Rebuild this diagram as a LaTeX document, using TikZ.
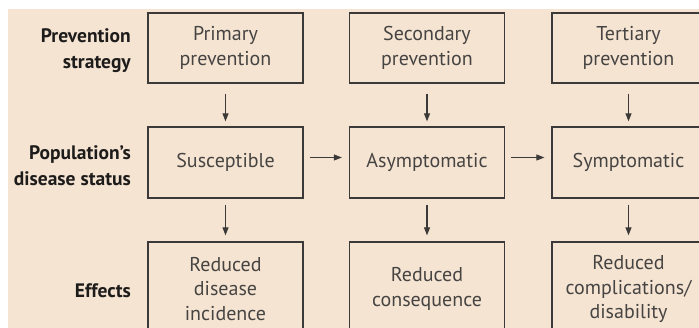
\documentclass[tikz,border=0pt]{standalone}
\usepackage{fontspec}
\setmainfont{PT Sans}
\usetikzlibrary{arrows.meta}
\definecolor{bg}{RGB}{245,228,210}
\definecolor{boxline}{RGB}{60,58,56}
\definecolor{boxtext}{RGB}{70,68,66}
\definecolor{labtext}{RGB}{30,28,27}
\tikzset{
  x=1pt,y=-1pt,
  stagebox/.style={draw=boxline,line width=1.3pt,minimum width=155pt,align=center,
    font=\fontsize{20}{24.5}\selectfont,text=boxtext,inner sep=0pt},
  rowlabel/.style={anchor=east,align=right,font=\fontsize{19.5}{26}\selectfont\bfseries,text=labtext,inner sep=0pt},
  arr/.style={draw=boxline,line width=1.1pt,-{Triangle[length=8pt,width=6pt]}},
}
\begin{document}
\begin{tikzpicture}
\useasboundingbox (0,0) rectangle (699,328);
\clip (0,0) rectangle (699,328);
\fill[white] (0,0) rectangle (699,328);
\fill[bg] (8,9) rectangle (699,328);
% top row
\node[stagebox,minimum height=70pt] (p1) at (225.5,48) {Primary\\prevention};
\node[stagebox,minimum height=70pt] (p2) at (427,48) {Secondary\\prevention};
\node[stagebox,minimum height=70pt,minimum width=153pt] (p3) at (628.5,48) {Tertiary\\prevention};
% middle row
\node[stagebox,minimum height=71pt] (s1) at (225.5,162.5) {Susceptible};
\node[stagebox,minimum height=71pt] (s2) at (427,162.5) {Asymptomatic};
\node[stagebox,minimum height=71pt,minimum width=153pt] (s3) at (628.5,162.5) {Symptomatic};
% bottom row
\node[stagebox,minimum height=94pt] (e1) at (225.5,289) {Reduced\\disease\\incidence};
\node[stagebox,minimum height=94pt] (e2) at (427,289) {Reduced\\consequence};
\node[stagebox,minimum height=94pt,minimum width=153pt] (e3) at (628.5,289) {Reduced\\complications/\\disability};
% row labels
\node[rowlabel] (l1) at (131,51) {Prevention\\strategy};
\node[rowlabel] (l2) at (131,166) {Population's\\disease status};
\node[rowlabel] (l3) at (131,291) {Effects};
% arrows
\foreach \a/\b in {p1/s1,p2/s2,p3/s3}{
  \draw[arr,shorten <=10pt,shorten >=5pt] (\a.south) -- (\b.north);
}
\foreach \a/\b in {s1/e1,s2/e2,s3/e3}{
  \draw[arr,shorten <=6pt,shorten >=6pt] (\a.south) -- (\b.north);
}
\draw[arr,shorten <=6pt,shorten >=7pt] ([yshift=5pt]s1.east) -- ([yshift=5pt]s2.west);
\draw[arr,shorten <=6pt,shorten >=7pt] ([yshift=5pt]s2.east) -- ([yshift=5pt]s3.west);
\end{tikzpicture}
\end{document}
